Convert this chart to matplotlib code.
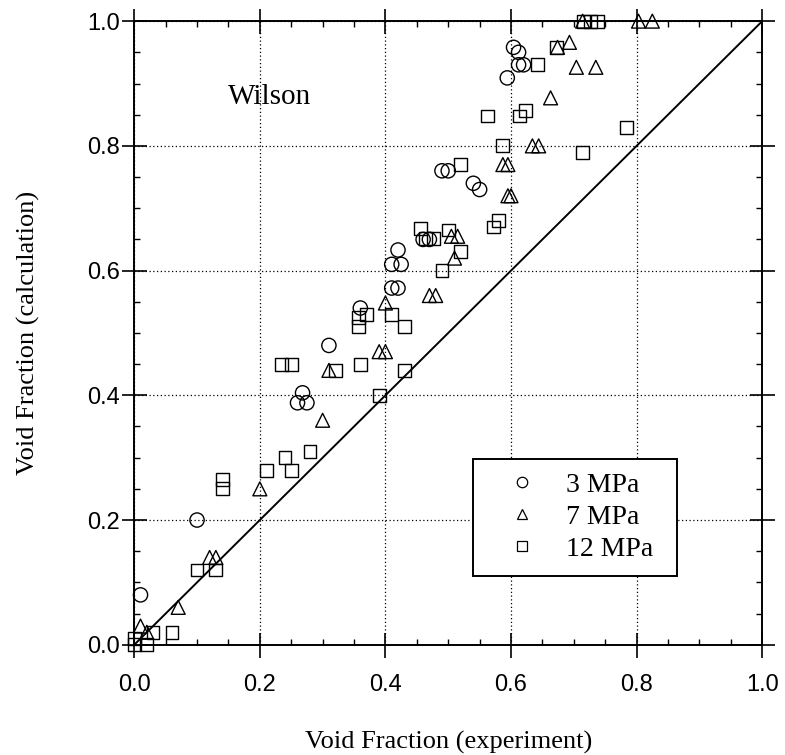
import matplotlib
matplotlib.use("Agg")
import matplotlib.pyplot as plt
from matplotlib.lines import Line2D

# Void fraction: experiment vs. calculation (Wilson correlation)
x_3mpa = [0.01, 0.10, 0.26, 0.268, 0.275, 0.31, 0.36, 0.41, 0.42, 0.41, 0.425, 0.42,
          0.46, 0.47, 0.49, 0.50, 0.54, 0.55, 0.594, 0.604, 0.612, 0.612, 0.62]
y_3mpa = [0.08, 0.20, 0.388, 0.404, 0.388, 0.48, 0.54, 0.572, 0.572, 0.61, 0.61, 0.633,
          0.65, 0.65, 0.76, 0.76, 0.74, 0.73, 0.909, 0.958, 0.95, 0.93, 0.93]

x_7mpa = [0.01, 0.02, 0.07, 0.12, 0.13, 0.20, 0.30, 0.31, 0.39, 0.40, 0.40, 0.47, 0.48,
          0.505, 0.515, 0.51, 0.587, 0.595, 0.595, 0.60, 0.634, 0.644, 0.663, 0.674,
          0.693, 0.704, 0.735, 0.714, 0.803, 0.825]
y_7mpa = [0.03, 0.02, 0.06, 0.14, 0.14, 0.25, 0.36, 0.44, 0.47, 0.47, 0.548, 0.56, 0.56,
          0.655, 0.655, 0.62, 0.77, 0.77, 0.72, 0.72, 0.80, 0.80, 0.877, 0.958,
          0.966, 0.926, 0.926, 1.0, 1.0, 1.0]

x_12mpa = [0.0, 0.0, 0.02, 0.03, 0.06, 0.10, 0.13, 0.14, 0.14, 0.21, 0.24, 0.25, 0.28,
           0.235, 0.25, 0.32, 0.357, 0.357, 0.37, 0.36, 0.39, 0.41, 0.43, 0.43,
           0.456, 0.464, 0.477, 0.50, 0.49, 0.52, 0.52, 0.572, 0.58, 0.563, 0.586,
           0.614, 0.623, 0.642, 0.673, 0.714, 0.784, 0.716, 0.727, 0.738]
y_12mpa = [0.01, 0.0, 0.0, 0.02, 0.02, 0.12, 0.12, 0.265, 0.25, 0.28, 0.30, 0.28, 0.31,
           0.45, 0.45, 0.44, 0.525, 0.51, 0.53, 0.45, 0.40, 0.53, 0.51, 0.44,
           0.668, 0.652, 0.652, 0.665, 0.60, 0.63, 0.77, 0.67, 0.68, 0.848, 0.80,
           0.848, 0.857, 0.93, 0.958, 0.79, 0.829, 1.0, 1.0, 1.0]

series_labels = ["3 MPa", "7 MPa", "12 MPa"]
tick_vals = [0.0, 0.2, 0.4, 0.6, 0.8, 1.0]

serif = ["Liberation Serif", "DejaVu Serif"]
sans = ["Liberation Sans", "DejaVu Sans"]

fig = plt.figure(figsize=(7.85, 7.55), dpi=100)
ax = fig.add_axes([0.171, 0.146, 0.8, 0.826])

ax.set_xlim(0, 1)
ax.set_ylim(0, 1)

# dotted grid at the major ticks
ax.grid(True, which="major", linestyle=(0, (1, 2)), color="black", linewidth=0.9)
ax.set_axisbelow(True)

# 1:1 reference line
ax.plot([0, 1], [0, 1], color="black", linewidth=1.4, zorder=2)

mk = dict(facecolors="none", edgecolors="black", linewidths=1.0, zorder=3, clip_on=False)
ax.scatter(x_3mpa, y_3mpa, marker="o", s=105, **mk)
ax.scatter(x_7mpa, y_7mpa, marker="^", s=100, **mk)
ax.scatter(x_12mpa, y_12mpa, marker="s", s=85, **mk)

ax.set_xticks(tick_vals)
ax.set_yticks(tick_vals)
ax.set_xticks([i * 0.05 for i in range(21)], minor=True)
ax.set_yticks([i * 0.05 for i in range(21)], minor=True)
ax.set_xticklabels([f"{v:.1f}" for v in tick_vals])
ax.set_yticklabels([f"{v:.1f}" for v in tick_vals])
ax.tick_params(which="major", direction="inout", length=18, width=1.2,
               top=True, right=True, labelsize=17)
ax.tick_params(which="minor", direction="in", length=4.5, width=1.0,
               top=True, right=True)
ax.tick_params(axis="x", which="major", pad=12)
ax.tick_params(axis="y", which="major", pad=1)
for lbl in ax.get_xticklabels() + ax.get_yticklabels():
    lbl.set_family(sans)

for sp in ax.spines.values():
    sp.set_linewidth(1.4)

ax.set_xlabel("Void Fraction (experiment)", fontsize=19, family=serif, labelpad=25)
ax.set_ylabel("Void Fraction (calculation)", fontsize=19, family=serif, labelpad=34)

ax.text(0.150, 0.867, "Wilson", fontsize=21, family=serif, va="baseline", ha="left")

handles = [
    Line2D([], [], marker="o", linestyle="none", markersize=7.5, markerfacecolor="none",
           markeredgecolor="black", markeredgewidth=0.9),
    Line2D([], [], marker="^", linestyle="none", markersize=7.5, markerfacecolor="none",
           markeredgecolor="black", markeredgewidth=0.9),
    Line2D([], [], marker="s", linestyle="none", markersize=7, markerfacecolor="none",
           markeredgecolor="black", markeredgewidth=0.9),
]
leg = ax.legend(handles, series_labels, loc="lower left",
                bbox_to_anchor=(0.540, 0.111, 0.325, 0.184), mode="expand",
                prop={"family": serif, "size": 20}, frameon=True, fancybox=False,
                edgecolor="black", framealpha=1, borderpad=0.5, labelspacing=0.23,
                handlelength=2.5, handletextpad=0.32, borderaxespad=0)
leg.get_frame().set_linewidth(1.4)

fig.savefig("out.png", dpi=100)
